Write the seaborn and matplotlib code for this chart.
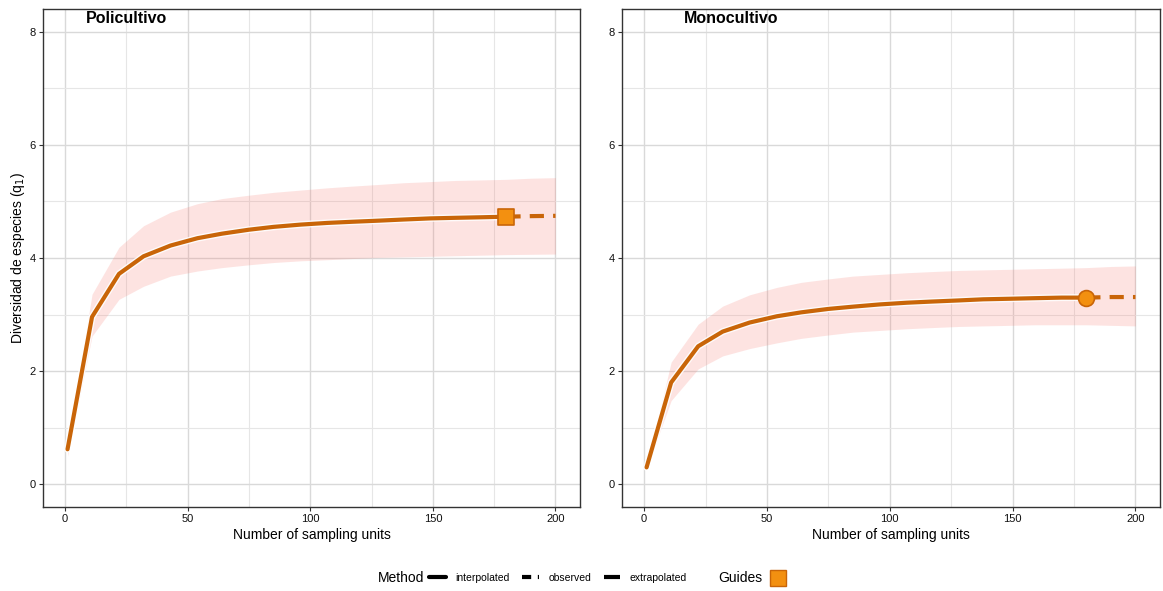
import numpy as np
import pandas as pd
import matplotlib
matplotlib.use("Agg")
import matplotlib.pyplot as plt
import matplotlib.patheffects as pe
from matplotlib.lines import Line2D
import seaborn as sns

# ---------------- data ----------------
sampling_units = [1, 11, 22, 32, 43, 54, 64, 75, 85, 96, 107, 117, 128, 138, 149, 159, 170, 180, 190, 200]
observed_units = 180

poli_qD = [0.62, 2.96, 3.72, 4.03, 4.22, 4.35, 4.43, 4.50, 4.55, 4.59, 4.62, 4.64, 4.66, 4.68, 4.70, 4.71, 4.72, 4.73, 4.74, 4.745]
poli_lcl = [0.50, 2.62, 3.27, 3.50, 3.68, 3.77, 3.83, 3.88, 3.92, 3.95, 3.97, 3.99, 4.01, 4.02, 4.03, 4.04, 4.05, 4.06, 4.065, 4.07]
poli_ucl = [0.70, 3.36, 4.19, 4.57, 4.81, 4.96, 5.05, 5.11, 5.16, 5.20, 5.24, 5.27, 5.30, 5.33, 5.35, 5.37, 5.38, 5.39, 5.41, 5.42]

mono_qD = [0.30, 1.80, 2.44, 2.70, 2.86, 2.97, 3.04, 3.10, 3.14, 3.18, 3.21, 3.23, 3.25, 3.27, 3.28, 3.29, 3.30, 3.30, 3.31, 3.31]
mono_lcl = [0.28, 1.48, 2.04, 2.27, 2.40, 2.50, 2.58, 2.64, 2.69, 2.72, 2.75, 2.77, 2.79, 2.80, 2.81, 2.82, 2.82, 2.82, 2.81, 2.80]
mono_ucl = [0.32, 2.16, 2.83, 3.15, 3.35, 3.48, 3.57, 3.63, 3.68, 3.71, 3.74, 3.76, 3.78, 3.79, 3.80, 3.81, 3.82, 3.83, 3.85, 3.86]

panel_titles = ["Policultivo", "Monocultivo"]
x_ticks = [0, 50, 100, 150, 200]
y_ticks = [0, 2, 4, 6, 8]
method_labels = ["interpolated", "observed", "extrapolated"]

# ---------------- style ----------------
LINE_C = "#C96508"
PT_FILL = "#F39010"
BAND_C = "#F8766D"
FONT = ["Liberation Sans", "DejaVu Sans"]

sns.set_style("white")
plt.rcParams["font.family"] = FONT
plt.rcParams["text.color"] = "black"

fig = plt.figure(figsize=(11.63, 5.91), dpi=100)
W, H = 1163, 591
def ax_rect(l, r, t, b):
    return [l / W, 1 - b / H, (r - l) / W, (b - t) / H]

axes = [fig.add_axes(ax_rect(43, 580, 9, 507)), fig.add_axes(ax_rect(622, 1160, 9, 507))]
datasets = [(poli_qD, poli_lcl, poli_ucl, "s", 8.6), (mono_qD, mono_lcl, mono_ucl, "o", 16.3)]

halo = [pe.Stroke(linewidth=5.0, foreground="white", alpha=0.85), pe.Normal()]

for ax, title, (qd, lcl, ucl, mk, tx) in zip(axes, panel_titles, datasets):
    df = pd.DataFrame({"m": sampling_units, "qD": qd, "lcl": lcl, "ucl": ucl})
    interp = df[df["m"] <= observed_units]
    extrap = df[df["m"] >= observed_units]
    obs = df[df["m"] == observed_units]

    ax.set_xlim(-9, 210)
    ax.set_ylim(-0.4, 8.4)
    ax.set_xticks(x_ticks)
    ax.set_yticks(y_ticks)
    ax.set_xticks([25, 75, 125, 175], minor=True)
    ax.set_yticks([1, 3, 5, 7], minor=True)
    ax.grid(True, which="major", color="#D9D9D9", lw=1.0, zorder=0)
    ax.grid(True, which="minor", color="#E6E6E6", lw=0.8, zorder=0)
    ax.set_axisbelow(True)

    ax.fill_between(df["m"], df["lcl"], df["ucl"], color=BAND_C, alpha=0.2, lw=0, zorder=1)
    sns.lineplot(data=interp, x="m", y="qD", ax=ax, color=LINE_C, lw=3.0,
                 estimator=None, sort=True, zorder=3, path_effects=halo)
    sns.lineplot(data=extrap, x="m", y="qD", ax=ax, color=LINE_C, lw=3.0,
                 estimator=None, sort=True, zorder=3, dashes=False)
    ax.lines[-1].set_linestyle((0, (3.4, 2.2)))
    sns.scatterplot(data=obs, x="m", y="qD", ax=ax, marker=mk, s=130,
                    color=PT_FILL, edgecolor=LINE_C, linewidth=1.2, zorder=4)

    ax.text(tx, 8.24, title, fontsize=11.5, fontweight="bold", ha="left", va="center",
            color="black", zorder=5)

    for s in ax.spines.values():
        s.set_visible(True)
        s.set_color("#333333")
        s.set_linewidth(1.0)
    ax.tick_params(axis="both", which="major", length=3, width=0.8, color="#333333",
                   labelsize=8, labelcolor="#111111", pad=2, direction="out",
                   bottom=True, left=True)
    ax.tick_params(which="minor", length=0)
    ax.set_xlabel("Number of sampling units", fontsize=10, labelpad=3, color="black")
    ax.set_ylabel("")

axes[0].set_ylabel("Diversidad de especies (q$_1$)", fontsize=10, labelpad=2, color="black")

# ---------------- legend ----------------
fig.text(378 / W, 1 - 578 / H, "Method", fontsize=10, va="center", ha="left")
handles = [
    Line2D([], [], color="black", lw=3, linestyle="-"),
    Line2D([], [], color="black", lw=3, linestyle=(0, (2.2, 1.6, 0.6, 1.6))),
    Line2D([], [], color="black", lw=3, linestyle=(0, (6, 1))),
]
fig.legend(handles, method_labels, loc="center", bbox_to_anchor=(558 / W, 1 - 578 / H),
           ncol=3, frameon=False, fontsize=7.5, handlelength=1.6, handletextpad=0.9,
           columnspacing=1.2, borderpad=0)
fig.text(718 / W, 1 - 578 / H, "Guides", fontsize=10, va="center", ha="left")
guide_handle = [Line2D([], [], marker="s", markersize=11, markerfacecolor=PT_FILL,
                       markeredgecolor=LINE_C, linestyle="none")]
leg2 = fig.legend(guide_handle, [""], loc="center", bbox_to_anchor=(778 / W, 1 - 578 / H),
                  frameon=True, edgecolor=LINE_C, fancybox=False, handlelength=0.9,
                  handletextpad=0, borderpad=0.15, fontsize=7)
leg2.get_frame().set_linewidth(1.0)

fig.savefig("out.png", dpi=100)
